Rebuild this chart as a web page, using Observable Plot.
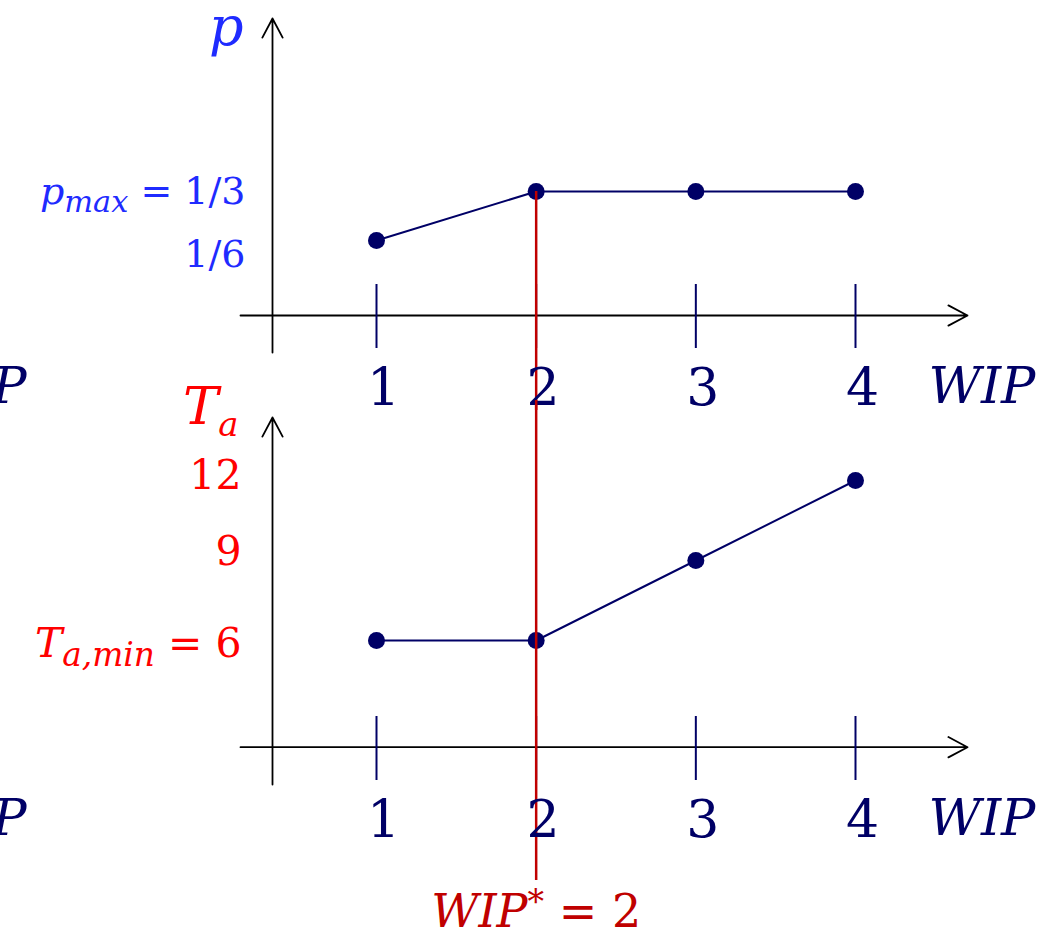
<!DOCTYPE html>
<html><head><meta charset="utf-8">
<script src="https://cdn.jsdelivr.net/npm/d3@7"></script>
<script src="https://cdn.jsdelivr.net/npm/@observablehq/plot@0.6"></script>
<style>
html,body{margin:0;padding:0;background:#fff;}
body{width:1054px;height:933px;overflow:hidden;}
#chart svg{display:block;overflow:visible;}
</style></head><body><div id="chart"></div>
<script>
// ---- data ----
const wip = [1, 2, 3, 4];
const pValues = [1/6, 1/3, 1/3, 1/3];
const taValues = [6, 6, 9, 12];
const pTicks = [1/6, 1/3];
const pTickLabels = ["1/6", "$p$_{max} = 1/3"];
const taTicks = [6, 9, 12];
const taTickLabels = ["$T$_{a,min} = 6", "9", "12"];
const wipTickLabels = ["1", "2", "3", "4"];
const wipStar = 2;
const wipStarLabel = "$WIP$^{*} = 2";
const xLabel = "WIP";
const pLabel = "p";
const taLabel = "$T$_(a)";

// ---- style / layout ----
const NAVY = "#000066", BLUE = "#1f2bff", RED = "#ff0000", DARKRED = "#c00000";
const FONT = "DejaVu Serif";
const W = 1054, H1 = 405, H2 = 528;
const xDomain = [1, 4], xRange = [376, 855];
const pDomain = [1/6, 1/3], pRange = [240, 191];
const tDomain = [6, 12], tRange = [235, 75];
const xS = d3.scaleLinear(xDomain, xRange);
const pS = d3.scaleLinear(pDomain, pRange);
const tS = d3.scaleLinear(tDomain, tRange);
const xAt = px => xS.invert(px);
const pAt = px => pS.invert(px);
const tAt = px => tS.invert(px);
const yAxX = xAt(272);
const arrowOpts = {stroke: "#000", strokeWidth: 1.8, headLength: 18, headAngle: 56};

// small markup: $..$ italic, _{..} subscript, _(..) small subscript, ^{..} superscript
function richText(svg) {
  svg.querySelectorAll("text").forEach(t => {
    const s = t.textContent;
    if (!/[\$_^]/.test(s)) return;
    const parts = s.split(/(\$[^$]*\$|_\{[^}]*\}|_\([^)]*\)|\^\{[^}]*\})/).filter(p => p);
    t.textContent = "";
    let shift = 0;
    for (const p of parts) {
      const ts = document.createElementNS("http://www.w3.org/2000/svg", "tspan");
      let txt = p, size = 1, target = 0, italic = false;
      if (p.startsWith("$")) { txt = p.slice(1, -1); italic = true; }
      else if (p.startsWith("_{")) { txt = p.slice(2, -1); italic = true; size = 0.8; target = 0.22; }
      else if (p.startsWith("_(")) { txt = p.slice(2, -1); italic = true; size = 0.64; target = 0.23; }
      else if (p.startsWith("^{")) { txt = p.slice(2, -1); size = 0.72; target = -0.3; }
      const d = target - shift; shift = target;
      if (d) ts.setAttribute("dy", (d / size).toFixed(3) + "em");
      if (size !== 1) ts.setAttribute("font-size", (size * 100) + "%");
      ts.setAttribute("font-style", italic ? "italic" : "normal");
      ts.textContent = txt;
      t.appendChild(ts);
    }
  });
}

function axesMarks(yAt, axisVal, yBot, yTop, tickA, tickB) {
  return [
    Plot.arrow([0], {x1: () => xAt(240), x2: () => xAt(967), y1: () => axisVal, y2: () => axisVal, ...arrowOpts}),
    Plot.arrow([0], {x1: () => yAxX, x2: () => yAxX, y1: () => yAt(yBot), y2: () => yAt(yTop), ...arrowOpts}),
    Plot.ruleX(wip, {x: d => d, y1: () => yAt(tickA), y2: () => yAt(tickB), stroke: NAVY, strokeWidth: 2}),
  ];
}
function xLabelMarks(axisVal) {
  return [
    Plot.text(wip, {x: d => d, y: () => axisVal, dx: 7, dy: 73, text: (d, i) => wipTickLabels[i], fill: NAVY, fontSize: 52, fontFamily: FONT}),
    Plot.text([xLabel], {x: () => xAt(928), y: () => axisVal, dy: 71, text: d => d, textAnchor: "start", fill: NAVY, fontSize: 51, fontStyle: "italic", fontFamily: FONT}),
    Plot.text([xLabel], {x: () => xAt(26), y: () => axisVal, dy: 71, text: d => d, textAnchor: "end", fill: NAVY, fontSize: 51, fontStyle: "italic", fontFamily: FONT}),
  ];
}

// ---- top panel: p ----
const pAxis = pAt(315);
const pData = wip.map((w, i) => ({w, v: pValues[i]}));
const topPlot = Plot.plot({
  width: W, height: H1, margin: 0,
  x: {domain: xDomain, range: xRange, axis: null},
  y: {domain: pDomain, range: pRange, axis: null},
  style: {background: "transparent", overflow: "visible", fontFamily: FONT},
  marks: [
    ...axesMarks(pAt, pAxis, 352, 18, 284, 348),
    Plot.line(pData, {x: "w", y: "v", stroke: NAVY, strokeWidth: 2}),
    Plot.dot(pData, {x: "w", y: "v", r: 8.5, fill: NAVY}),
    Plot.ruleX([wipStar], {x: d => d, y1: () => pValues[wip.indexOf(wipStar)], y2: () => pAt(H1 + 5), stroke: DARKRED, strokeWidth: 2.5}),
    ...xLabelMarks(pAxis),
    Plot.text([pTicks[0]], {x: () => yAxX, y: d => d, dx: -27, dy: 14, text: () => pTickLabels[0], textAnchor: "end", fill: BLUE, fontSize: 38, fontFamily: FONT}),
    Plot.text([pTicks[1]], {x: () => yAxX, y: d => d, dx: -27, dy: 0, text: () => pTickLabels[1], textAnchor: "end", fill: BLUE, fontSize: 38, fontFamily: FONT}),
    Plot.text([pLabel], {x: () => yAxX, y: () => pAt(44), dx: -29, text: d => d, textAnchor: "end", lineAnchor: "bottom", fill: BLUE, fontSize: 54, fontStyle: "italic", fontFamily: FONT}),
  ]
});

// ---- bottom panel: T_a ----
const off = H1;
const tAxis = tAt(746.7 - off);
const tData = wip.map((w, i) => ({w, v: taValues[i]}));
const taDy = {6: 3, 9: -9, 12: -5};
const bottomPlot = Plot.plot({
  width: W, height: H2, margin: 0,
  x: {domain: xDomain, range: xRange, axis: null},
  y: {domain: tDomain, range: tRange, axis: null},
  style: {background: "transparent", overflow: "visible", fontFamily: FONT},
  marks: [
    ...axesMarks(tAt, tAxis, 784 - off, 417 - off, 716 - off, 780 - off),
    Plot.line(tData, {x: "w", y: "v", stroke: NAVY, strokeWidth: 2}),
    Plot.dot(tData, {x: "w", y: "v", r: 8.5, fill: NAVY}),
    Plot.ruleX([wipStar], {x: d => d, y1: () => tAt(-5), y2: () => tAt(880 - off), stroke: DARKRED, strokeWidth: 2.5}),
    ...xLabelMarks(tAxis),
    ...taTicks.map((v, i) => Plot.text([v], {x: () => yAxX, y: d => d, dx: -31, dy: taDy[v], text: () => taTickLabels[i], textAnchor: "end", fill: RED, fontSize: 41, fontFamily: FONT})),
    Plot.text([taLabel], {x: () => yAxX, y: () => tAt(423 - off), dx: -34, text: d => d, textAnchor: "end", lineAnchor: "bottom", fill: RED, fontSize: 53, fontFamily: FONT}),
    Plot.text([wipStarLabel], {x: () => wipStar, y: () => tAt(912 - off), text: d => d, fill: DARKRED, fontSize: 46, fontFamily: FONT}),
  ]
});

const chart = document.getElementById("chart");
chart.append(topPlot, bottomPlot);
richText(topPlot); richText(bottomPlot);
</script>
</body></html>
